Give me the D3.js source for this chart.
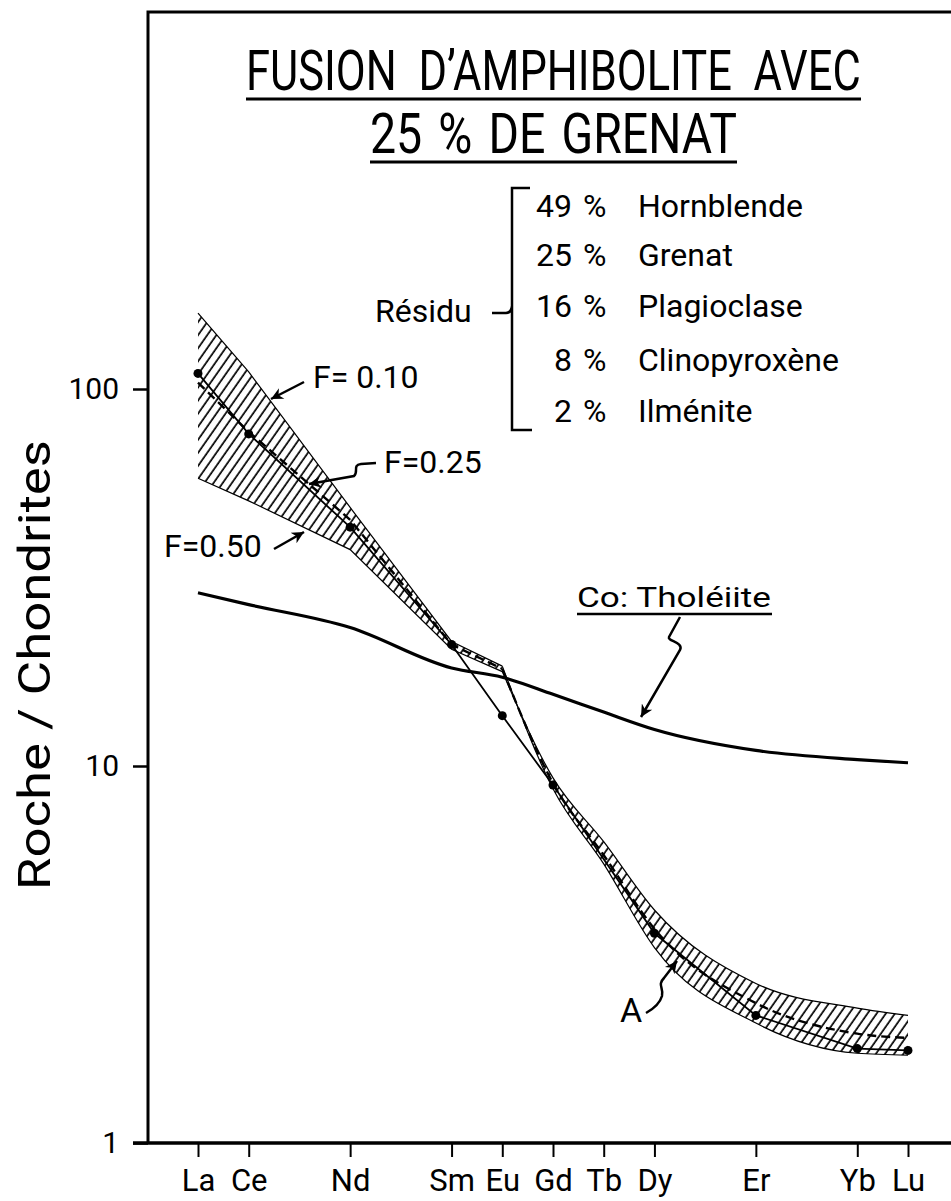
<!DOCTYPE html>
<html>
<head>
<meta charset="utf-8">
<script src="https://cdn.jsdelivr.net/npm/d3@7"></script>
<style>
  html, body { margin: 0; padding: 0; background: #fff; }
  svg { display: block; }
  text { font-family: Roboto, "Liberation Sans", sans-serif; fill: #000; }
</style>
</head>
<body>
<svg id="chart" width="951" height="1201"></svg>
<script>
// ---------------- data ----------------
const ree = ["La","Ce","Nd","Sm","Eu","Gd","Tb","Dy","Er","Yb","Lu"];
const atomicNumber = [57,58,60,62,63,64,65,66,68,70,71];
const tholeiite = [28.8,26.8,23.3,18.2,17.2,15.5,13.9,12.5,11.0,10.4,10.2];
const sampleA   = [110,76,43,21,13.6,8.9,null,3.6,2.18,1.78,1.76];
const meltF010  = [159,111,48.5,21.4,18.4,8.7,5.5,3.3,2.08,1.73,1.71];
const meltF025  = [104,77,45,21.0,18.1,9.0,5.8,3.7,2.35,1.95,1.9];
const meltF050  = [58,50.5,37.5,20.4,17.8,9.3,6.3,4.15,2.65,2.28,2.18];
const yTicks = [1,10,100];
const residuPct = ["49","25","16","8","2"];
const residuMineral = ["Hornblende","Grenat","Plagioclase","Clinopyroxène","Ilménite"];
const titleLines = ["FUSION D’AMPHIBOLITE AVEC","25 % DE GRENAT"];

// ---------------- layout ----------------
const svg = d3.select("#chart");
svg.append("rect").attr("width",951).attr("height",1201).attr("fill","#fff");

const x = d3.scaleLinear().domain([57,71]).range([198,908]);
const y = d3.scaleLog().domain([1,1000]).range([1143,12]);

const defs = svg.append("defs");
const pat = defs.append("pattern").attr("id","hatch")
  .attr("patternUnits","userSpaceOnUse").attr("width",7.5).attr("height",7.5)
  .attr("patternTransform","rotate(35)");
pat.append("line").attr("x1",2).attr("y1",-1).attr("x2",2).attr("y2",9)
  .attr("stroke","#000").attr("stroke-width",1.7);
defs.append("marker").attr("id","arrow").attr("viewBox","0 0 10 10")
  .attr("refX",10).attr("refY",5).attr("markerUnits","userSpaceOnUse")
  .attr("markerWidth",17).attr("markerHeight",12).attr("orient","auto")
  .append("path").attr("d","M0,0 L10,5 L0,10 L3,5 Z").attr("fill","#000");

function fitText(sel, x0, base, width, sy) {
  const len = sel.node().getComputedTextLength();
  sel.attr("transform", `translate(${x0},${base}) scale(${width/len},${sy})`);
  return sel;
}

// frame
svg.append("path").attr("d","M148,1143 L148,12 L951,12")
  .attr("fill","none").attr("stroke","#000").attr("stroke-width",3);

// axes
const yAxis = d3.axisLeft(y).tickValues(yTicks).tickFormat(d3.format("d")).tickSize(15).tickPadding(14);
const gy = svg.append("g").attr("transform","translate(148,0)").call(yAxis);
gy.select(".domain").remove();
gy.selectAll(".tick line").attr("stroke","#000").attr("stroke-width",2.5);
gy.selectAll(".tick text").attr("font-size",30).attr("font-family","Roboto, sans-serif").attr("fill","#000");

const xAxis = d3.axisBottom(x).tickValues(atomicNumber).tickFormat((d,i)=>ree[i]).tickSize(14).tickPadding(12);
const gx = svg.append("g").attr("transform","translate(0,1143)").call(xAxis);
gx.select(".domain").remove();
gx.selectAll(".tick line").attr("stroke","#000").attr("stroke-width",2);
gx.selectAll(".tick text").attr("font-size",31).attr("font-family","Roboto, sans-serif").attr("fill","#000");
svg.append("line").attr("x1",133).attr("x2",951).attr("y1",1143).attr("y2",1143)
  .attr("stroke","#000").attr("stroke-width",3.5);

// y label
svg.append("text").attr("transform","translate(50,665) rotate(-90)")
  .attr("text-anchor","middle").attr("font-size",44)
  .attr("textLength",450).attr("lengthAdjust","spacingAndGlyphs")
  .text("Roche / Chondrites");

// ---------------- marks ----------------
const rows = ree.map((r,i)=>({z:atomicNumber[i], th:tholeiite[i], a:sampleA[i], f10:meltF010[i], f25:meltF025[i], f50:meltF050[i]}));
const euIdx = ree.indexOf("Eu");
const light = rows.slice(0, euIdx+1), heavy = rows.slice(euIdx);

const bandLin = d3.area().x(d=>x(d.z)).y0(d=>y(d.f50)).y1(d=>y(d.f10)).curve(d3.curveLinear);
const bandSm  = d3.area().x(d=>x(d.z)).y0(d=>y(d.f50)).y1(d=>y(d.f10)).curve(d3.curveMonotoneX);
const bandG = svg.append("g");
bandG.append("path").attr("d",bandLin(light)).attr("fill","url(#hatch)").attr("stroke","none");
bandG.append("path").attr("d",bandSm(heavy)).attr("fill","url(#hatch)").attr("stroke","none");
["f10","f50"].forEach(k=>{
  bandG.append("path").attr("d",d3.line().x(d=>x(d.z)).y(d=>y(d[k]))(light))
    .attr("fill","none").attr("stroke","#000").attr("stroke-width",1.2);
  bandG.append("path").attr("d",d3.line().x(d=>x(d.z)).y(d=>y(d[k])).curve(d3.curveMonotoneX)(heavy))
    .attr("fill","none").attr("stroke","#000").attr("stroke-width",1.2);
});

svg.append("path").attr("d",d3.line().x(d=>x(d.z)).y(d=>y(d.f25))(light)).attr("fill","none")
  .attr("stroke","#000").attr("stroke-width",2.4).attr("stroke-dasharray","9,5");
svg.append("path").attr("d",d3.line().x(d=>x(d.z)).y(d=>y(d.f25)).curve(d3.curveMonotoneX)(heavy)).attr("fill","none")
  .attr("stroke","#000").attr("stroke-width",2.4).attr("stroke-dasharray","9,5");

svg.append("path").attr("d",d3.line().x(d=>x(d.z)).y(d=>y(d.th)).curve(d3.curveMonotoneX)(rows)).attr("fill","none")
  .attr("stroke","#000").attr("stroke-width",3.2);

const aRows = rows.filter(d=>d.a!=null);
svg.append("path").attr("d",d3.line().x(d=>x(d.z)).y(d=>y(d.a))(aRows))
  .attr("fill","none").attr("stroke","#000").attr("stroke-width",1.8);
svg.selectAll("circle.a").data(aRows).join("circle").attr("class","a")
  .attr("cx",d=>x(d.z)).attr("cy",d=>y(d.a)).attr("r",4.5).attr("fill","#000");

// ---------------- title & annotations ----------------
fitText(svg.append("text").attr("font-size",40).attr("word-spacing",10).text(titleLines[0]), 246, 90, 615, 1.38);
svg.append("line").attr("x1",246).attr("x2",861).attr("y1",99).attr("y2",99).attr("stroke","#000").attr("stroke-width",3);
fitText(svg.append("text").attr("font-size",40).attr("word-spacing",4).text(titleLines[1]), 370, 153, 367, 1.38);
svg.append("line").attr("x1",370).attr("x2",737).attr("y1",162).attr("y2",162).attr("stroke","#000").attr("stroke-width",3);

// residu bracket
svg.append("path").attr("d","M530,188 L512,188 L512,430 L532,430 M492,313 L506,313 Q511,313 512,306")
  .attr("fill","none").attr("stroke","#000").attr("stroke-width",2.5);
svg.append("text").attr("x",375).attr("y",322).attr("font-size",32).text("Résidu");
const baseY = [217,266,317,371,422];
residuPct.forEach((p,i)=>{
  svg.append("text").attr("x",572).attr("y",baseY[i]).attr("font-size",32).attr("text-anchor","end").text(p);
  svg.append("text").attr("x",583).attr("y",baseY[i]).attr("font-size",32).text("%");
  svg.append("text").attr("x",638).attr("y",baseY[i]).attr("font-size",32).text(residuMineral[i]);
});

// F labels
svg.append("text").attr("x",313).attr("y",388).attr("font-size",32).text("F= 0.10");
svg.append("text").attr("x",384).attr("y",473).attr("font-size",32).text("F=0.25");
svg.append("text").attr("x",164).attr("y",557).attr("font-size",32).text("F=0.50");
fitText(svg.append("text").attr("font-size",28).text("Co: Tholéiite"), 577, 607, 194, 1);
svg.append("line").attr("x1",577).attr("x2",772).attr("y1",614).attr("y2",614).attr("stroke","#000").attr("stroke-width",2.5);
svg.append("text").attr("x",620).attr("y",1022).attr("font-size",34).text("A");

const arrows = [
  "M304,382 L271,399",
  "M376,463 L361,464 C352,465 359,472 354,476 L309,484",
  "M274,549 L304,532",
  "M680,617 L669,637 C667,641 684,642 680,650 L641,717",
  "M646,1013 C655,1008 660,1003 662,996 C664,988 657,985 664,978 L677,961"
];
arrows.forEach(d=>svg.append("path").attr("d",d).attr("fill","none")
  .attr("stroke","#000").attr("stroke-width",2.5).attr("marker-end","url(#arrow)"));
</script>
</body>
</html>
